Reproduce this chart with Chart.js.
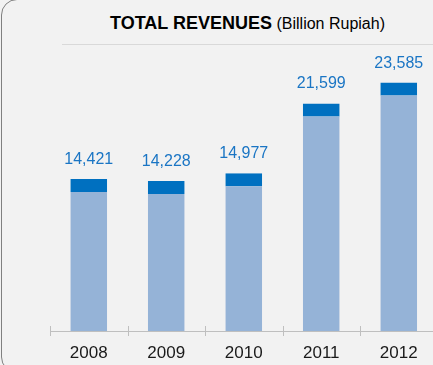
<!DOCTYPE html>
<html>
<head>
<meta charset="utf-8">
<script src="https://cdn.jsdelivr.net/npm/chart.js@4"></script>
<style>
  html, body { margin: 0; padding: 0; background: #f2f2f2; overflow: hidden; }
  body { width: 433px; height: 365px; position: relative; font-family: "Liberation Sans", Arial, sans-serif; }
  #frame { position: absolute; left: 1px; top: -1px; width: 520px; height: 374px; border: 1px solid #808080; border-radius: 16px; box-sizing: border-box; }
  #judul { position: absolute; left: 62px; top: 13px; width: 371px; text-align: center; line-height: 20px; color: #000; white-space: nowrap; }
  #judul b { font-size: 18px; }
  #judul span { font-size: 16px; }
  #garis { position: absolute; left: 62px; top: 44px; width: 380px; height: 1px; background: #d9d9d9; }
  #wadah { position: absolute; left: 0; top: 0; width: 440px; height: 365px; }
</style>
</head>
<body>
<div id="frame"></div>
<div id="judul"><b>TOTAL REVENUES</b> <span>(Billion Rupiah)</span></div>
<div id="garis"></div>
<div id="wadah"><canvas id="pendapatanChart" width="440" height="365"></canvas></div>
<script>
(() => {
    const tahun = ["2008", "2009", "2010", "2011", "2012"];
    const pendapatan = [14421, 14228, 14977, 21599, 23585];   // miliar rupiah
    const batasAtas = 28000;

    const warnaBatang = "#95b3d7";
    const warnaTutup = "#0070c0";
    const warnaSumbu = "#bfbfbf";

    // angka di atas tiap batang
    const labelNilai = {
        id: "labelNilai",
        afterDatasetsDraw(chart) {
            const ctx = chart.ctx;
            const meta = chart.getDatasetMeta(0);
            ctx.save();
            ctx.font = "16px 'Liberation Sans', Arial, sans-serif";
            ctx.fillStyle = "#1a75c4";
            ctx.textAlign = "center";
            ctx.textBaseline = "alphabetic";
            meta.data.forEach((bar, i) => {
                ctx.fillText(pendapatan[i].toLocaleString("en-US"), bar.x, bar.y - 15);
            });
            ctx.restore();
        }
    };

    // garis pemisah kategori yang memotong sumbu
    const garisTick = {
        id: "garisTick",
        afterDraw(chart) {
            const ctx = chart.ctx;
            const area = chart.chartArea;
            const lebar = (area.right - area.left) / tahun.length;
            ctx.save();
            ctx.strokeStyle = warnaSumbu;
            ctx.lineWidth = 1;
            ctx.beginPath();
            for (let i = 0; i <= tahun.length; i++) {
                const x = Math.round(area.left + i * lebar) + 0.5;
                ctx.moveTo(x, area.bottom - 5);
                ctx.lineTo(x, area.bottom + 5);
            }
            ctx.stroke();
            ctx.restore();
        }
    };

    const ctx = document.getElementById("pendapatanChart");
    new Chart(ctx, {
        type: "bar",
        data: {
            labels: tahun,
            datasets: [{
                label: "Total Revenues",
                data: pendapatan,
                backgroundColor: warnaBatang,
                borderColor: warnaTutup,
                borderWidth: { top: 13, right: 0, bottom: 0, left: 0 },
                borderSkipped: false,
                categoryPercentage: 1,
                barPercentage: 0.475
            }]
        },
        options: {
            responsive: false,
            animation: false,
            layout: { padding: { left: 50, right: 2.5, top: 36, bottom: 0 } },
            plugins: { legend: { display: false }, tooltip: { enabled: false } },
            scales: {
                x: {
                    grid: { display: false, drawTicks: false },
                    border: { display: true, color: warnaSumbu, width: 1 },
                    ticks: {
                        color: "#1a1a1a",
                        padding: 12,
                        font: { family: "'Liberation Sans', Arial, sans-serif", size: 17 }
                    },
                    afterFit(scale) { scale.height = 34; }
                },
                y: {
                    display: false,
                    min: 0,
                    max: batasAtas
                }
            }
        },
        plugins: [labelNilai, garisTick]
    });
})();
</script>
</body>
</html>
